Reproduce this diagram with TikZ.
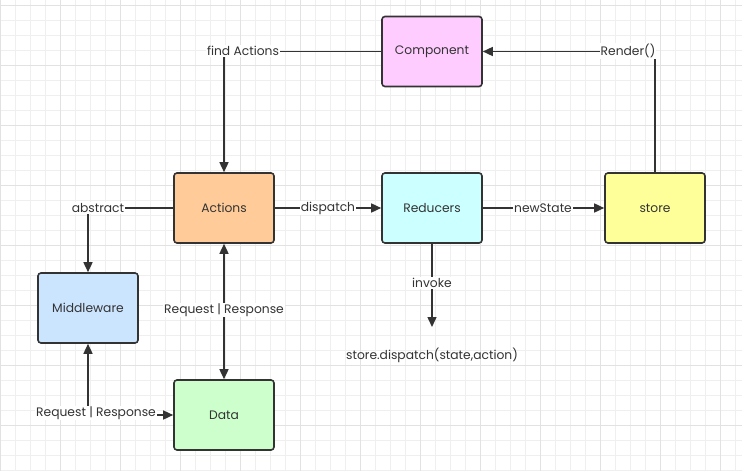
\documentclass[tikz,border=0pt]{standalone}
\usepackage{fontspec}
\setmainfont{Poppins}
\usetikzlibrary{arrows.meta}
\definecolor{ink}{HTML}{333333}
\definecolor{gminor}{HTML}{EFEFEF}
\definecolor{gmajor}{HTML}{E2E2E2}
\begin{document}
\begin{tikzpicture}[x=1pt,y=-1pt,
  box/.style={draw=ink,line width=1.6pt,rounded corners=3pt,minimum width=100pt,minimum height=70pt,inner sep=0pt,font=\fontsize{12.3}{14}\selectfont,text=ink},
  lbl/.style={fill=white,inner sep=1pt,font=\fontsize{12.3}{14}\selectfont,text=ink},
  arr/.style={draw=ink,line width=1.5pt,-{Triangle[length=10pt,width=9pt]}},
  darr/.style={draw=ink,line width=1.5pt,{Triangle[length=10pt,width=9pt]}-{Triangle[length=10pt,width=9pt]}},
  ln/.style={draw=ink,line width=1.5pt}]
\useasboundingbox (0,0) rectangle (742,471);
\fill[white] (0,0) rectangle (742,471);
\foreach \x in {0,15,...,742} {\draw[gminor,line width=0.8pt] (\x,0) -- (\x,471);}
\foreach \y in {5,20,...,471} {\draw[gminor,line width=0.8pt] (0,\y) -- (742,\y);}
\foreach \x in {0,60,...,742} {\draw[gmajor,line width=0.8pt] (\x,0) -- (\x,471);}
\foreach \y in {5,65,...,471} {\draw[gmajor,line width=0.8pt] (0,\y) -- (742,\y);}

\node[box,fill={rgb,255:red,255;green,204;blue,255}] (comp) at (432,51.5) {Component};
\node[box,fill={rgb,255:red,255;green,204;blue,153}] (act) at (224,208) {Actions};
\node[box,fill={rgb,255:red,204;green,255;blue,255}] (red) at (432,208) {Reducers};
\node[box,fill={rgb,255:red,255;green,255;blue,153}] (store) at (655,208) {store};
\node[box,fill={rgb,255:red,204;green,229;blue,255}] (mid) at (88,308) {Middleware};
\node[box,fill={rgb,255:red,204;green,255;blue,204}] (data) at (224,415) {Data};
\coordinate (inv) at (432,327);
\node[lbl,fill=none] (sd) at (432,355) {store.dispatch(state,action)};

\draw[arr] (comp.west) -| (act.north);
\node[lbl] (l1) at (243,51) {find Actions};
\draw[arr] (store.north) |- (comp.east);
\node[lbl] (l2) at (628,51) {Render()};
\draw[arr] (act.west) -| (mid.north);
\node[lbl] (l3) at (98,208) {abstract};
\draw[arr] (act.east) -- (red.west);
\node[lbl] (l4) at (328,208) {dispatch};
\draw[arr] (red.east) -- (store.west);
\node[lbl] (l5) at (543,208) {newState};
\draw[arr] (red.south) -- (inv);
\node[lbl] (l6) at (432,283) {invoke};
\draw[darr] (act.south) -- (data.north);
\node[lbl] (l7) at (224,310) {Request | Response};
\draw[darr] (mid.south) |- (data.west);
\node[lbl] (l8) at (96,413) {Request | Response};
\end{tikzpicture}
\end{document}
